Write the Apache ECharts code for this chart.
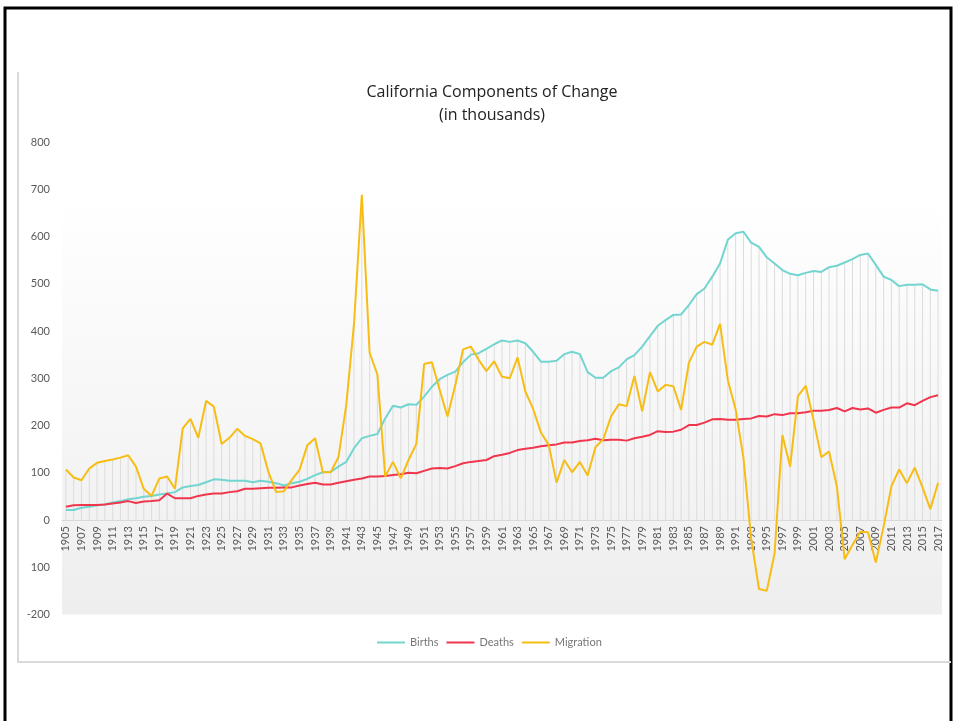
<!DOCTYPE html>
<html>
<head>
<meta charset="utf-8">
<script src="https://cdn.jsdelivr.net/npm/echarts@6/dist/echarts.min.js"></script>
<style>
html,body{margin:0;padding:0;background:#fff;}
#chart{width:954px;height:721px;}
</style>
</head>
<body>
<div id="chart"></div>
<script>
const years = [];
for (let y = 1905; y <= 2017; y++) years.push(String(y));

const births = [
21,21,26,28,31,33,37,40,44,46,49,51,54,56,59,69,72,74,80,86,
85,83,83,83,80,83,81,78,73,78,81,87,95,101,102,113,123,152,173,178,
182,215,242,238,245,244,261,282,298,307,314,334,350,353,362,372,380,377,380,374,
356,335,335,337,351,356,351,313,301,301,315,323,340,349,367,389,411,423,434,435,
455,478,490,515,543,593,607,610,587,578,556,543,529,521,518,523,527,525,535,538,
545,552,561,564,540,515,508,495,498,498,499,488,485
];

const deaths = [
28,31,32,32,32,33,35,37,40,36,39,40,42,56,46,46,46,51,54,56,
56,59,61,66,66,67,68,68,69,69,73,76,79,75,75,79,82,85,88,92,
92,93,95,97,100,99,104,109,110,109,114,120,123,125,127,135,138,142,148,151,
153,156,158,160,164,164,167,169,172,169,170,170,168,173,176,180,188,186,187,191,
201,201,206,213,214,212,212,214,215,220,219,224,222,226,226,228,231,231,233,237,
230,237,234,236,227,233,238,238,247,243,252,260,264
];

const migration = [
107,90,84,109,121,125,128,132,137,113,66,51,88,92,66,194,214,174,252,240,
161,174,193,178,171,162,102,59,61,85,106,158,173,101,101,133,243,416,688,354,
308,92,123,88,127,161,330,334,275,219,285,361,367,339,315,336,303,300,344,272,
235,185,159,79,127,101,123,94,154,171,219,245,241,305,230,313,272,286,283,233,
333,367,377,371,415,296,234,132,-40,-146,-150,-71,180,113,262,284,212,133,145,71,
-83,-53,-25,-26,-90,-14,71,107,78,111,69,23,79
];

const yTicks = {min: -200, max: 800, step: 100};

const dropTops = years.map((_, i) => Math.max(births[i], deaths[i], migration[i]));

const chart = echarts.init(document.getElementById('chart'), null, {renderer: 'canvas'});
const FONT = 'Lato, "Open Sans", sans-serif';

const gridTop = 142, gridBottomY = 614.5;
const zeroY = gridTop + (gridBottomY - gridTop) * (yTicks.max / (yTicks.max - yTicks.min));

chart.setOption({
  animation: false,
  backgroundColor: '#ffffff',
  graphic: [
    {type: 'rect', z: -10, shape: {x: 5, y: 8, width: 946, height: 730},
     style: {fill: 'none', stroke: '#000', lineWidth: 3}},
    {type: 'polyline', z: -9, shape: {points: [[18, 72], [18, 662], [951, 662]]},
     style: {fill: 'none', stroke: '#d9d9d9', lineWidth: 2}}
  ],
  title: {
    text: 'California Components of Change\n(in thousands)',
    left: 487, top: 76, textAlign: 'center',
    textStyle: {fontFamily: '"Open Sans", Lato, sans-serif', fontSize: 16, fontWeight: 'normal', color: '#222', lineHeight: 23}
  },
  legend: {
    data: ['Births', 'Deaths', 'Migration'],
    left: 372, top: 632,
    icon: 'rect', itemWidth: 28, itemHeight: 2, itemGap: 8,
    textStyle: {fontFamily: FONT, fontSize: 11, color: '#777'}
  },
  grid: {
    left: 62, right: 12, top: gridTop, bottom: 721 - gridBottomY,
    show: true, borderWidth: 0,
    backgroundColor: {
      type: 'linear', x: 0, y: 0, x2: 0, y2: 1,
      colorStops: [
        {offset: 0, color: '#ffffff'},
        {offset: 0.12, color: '#ffffff'},
        {offset: 1, color: '#eeeeee'}
      ]
    }
  },
  xAxis: {
    type: 'category', data: years, boundaryGap: true,
    offset: -(gridBottomY - zeroY),
    axisLine: {onZero: false, lineStyle: {color: '#d9d9d9', width: 1}},
    axisTick: {show: false},
    axisLabel: {interval: 1, rotate: 90, fontFamily: FONT, fontSize: 11, color: '#595959', margin: 6},
    splitLine: {show: false}
  },
  yAxis: {
    type: 'value', min: yTicks.min, max: yTicks.max, interval: yTicks.step,
    axisLine: {show: false}, axisTick: {show: false},
    splitLine: {show: false},
    axisLabel: {
      fontFamily: FONT, fontSize: 11, color: '#595959', margin: 12,
      formatter: v => (v === -100 ? '100' : String(v))
    }
  },
  series: [
    {name: 'drop', type: 'bar', data: dropTops, barWidth: 1, silent: true,
     itemStyle: {color: '#dcdcdc'}, z: 1},
    {name: 'Births', type: 'line', data: births, symbol: 'none', z: 3,
     lineStyle: {color: '#72d5d0', width: 2}, itemStyle: {color: '#72d5d0'}},
    {name: 'Deaths', type: 'line', data: deaths, symbol: 'none', z: 3,
     lineStyle: {color: '#f0364c', width: 2}, itemStyle: {color: '#f0364c'}},
    {name: 'Migration', type: 'line', data: migration, symbol: 'none', z: 4,
     lineStyle: {color: '#f7bd15', width: 2}, itemStyle: {color: '#f7bd15'}}
  ]
});
</script>
</body>
</html>
